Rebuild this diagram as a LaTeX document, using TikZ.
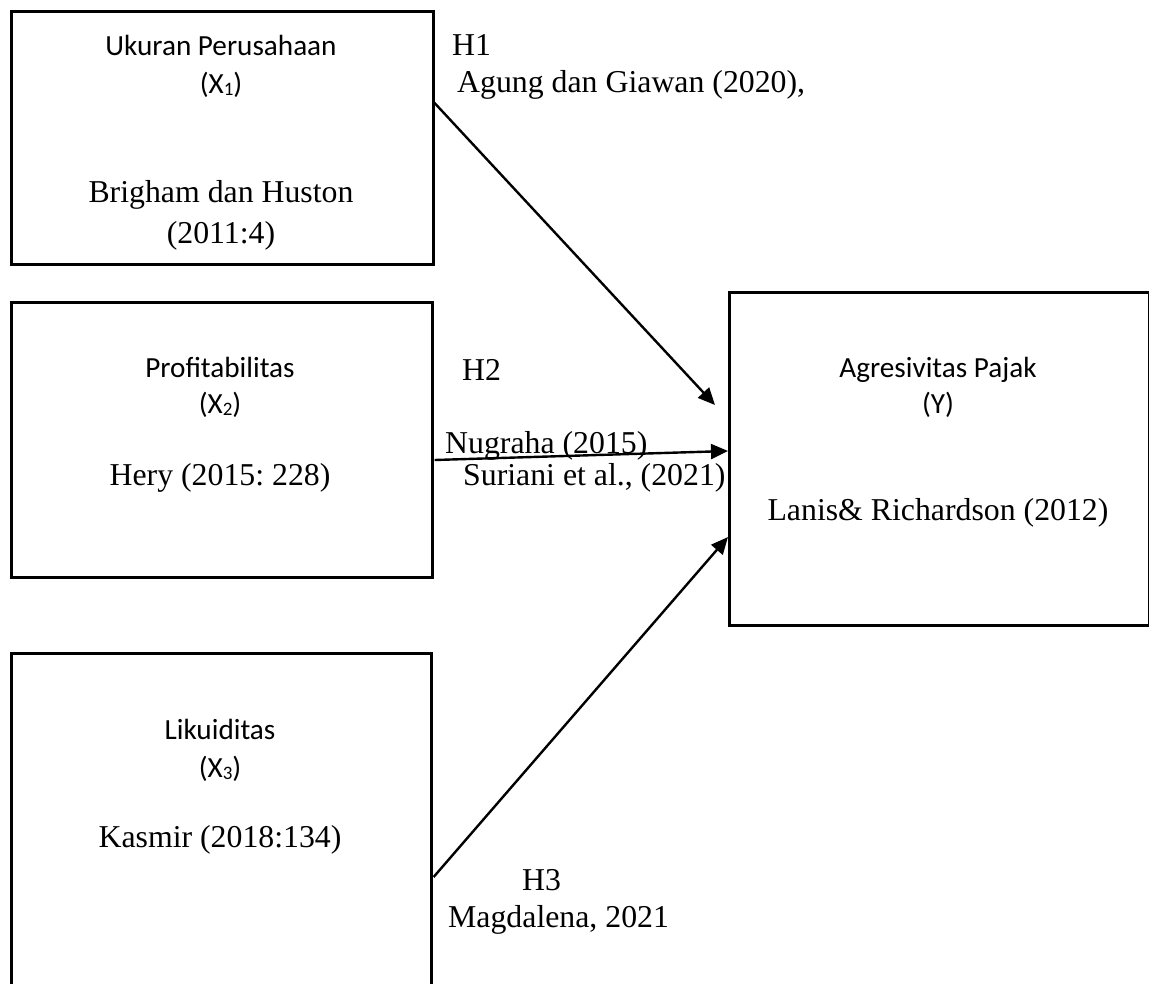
\documentclass[tikz,border=0pt]{standalone}
\usepackage{fontspec}
\setmainfont{Liberation Serif}
\newfontfamily\calfont{Carlito}
\usetikzlibrary{arrows.meta}
\frenchspacing
\newcommand\mysub[1]{\raisebox{-0.1em}{\fontsize{19}{19}\selectfont #1}}
\tikzset{
  box/.style={draw, line width=2.6pt, rectangle, inner sep=0pt, anchor=north west},
  cal/.style={font=\calfont\fontsize{29.2}{35}\selectfont, inner sep=0pt},
  tms/.style={font=\fontsize{31.8}{37}\selectfont, inner sep=0pt},
  conn/.style={line width=2.4pt, -{Triangle[length=17pt,width=15pt]}}
}
\begin{document}
\begin{tikzpicture}[x=1pt,y=-1pt]
\clip (0,0) rectangle (1149,983);
\useasboundingbox (0,0) rectangle (1149,983);
% boxes
\node[box, minimum width=422pt, minimum height=253pt] (x1) at (10,10) {};
\node[box, minimum width=421pt, minimum height=275pt] (x2) at (10,301) {};
\node[box, minimum width=420pt, minimum height=420pt] (x3) at (10,652) {};
\node[box, minimum width=420pt, minimum height=333pt] (y) at (728,291) {};
% box texts
\node[cal, anchor=base] (t1a) at (221,55) {Ukuran Perusahaan};
\node[cal, anchor=base] (t1b) at (221,93) {(X\mysub{1})};
\node[tms, anchor=base] (t1c) at (221,202) {Brigham dan Huston};
\node[tms, anchor=base] (t1d) at (221,243) {(2011:4)};
\node[cal, anchor=base] (t2a) at (220,377) {Profitabilitas};
\node[cal, anchor=base] (t2b) at (220,413) {(X\mysub{2})};
\node[tms, anchor=base] (t2c) at (220,485) {Hery (2015: 228)};
\node[cal, anchor=base] (t3a) at (220,739) {Likuiditas};
\node[cal, anchor=base] (t3b) at (220,777) {(X\mysub{3})};
\node[tms, anchor=base] (t3c) at (220,847) {Kasmir (2018:134)};
\node[cal, anchor=base] (tya) at (938,377) {Agresivitas Pajak};
\node[cal, anchor=base] (tyb) at (938,413) {(Y)};
\node[tms, anchor=base] (tyc) at (938,520) {Lanis\& Richardson (2012)};
% hypothesis labels
\node[tms, anchor=base west] (h1) at (452,55) {H1};
\node[tms, anchor=base west] (h1r) at (457,92) {Agung dan Giawan (2020),};
\node[tms, anchor=base west] (h2) at (462,380) {H2};
\node[tms, anchor=base west] (h2r1) at (445,453) {Nugraha (2015)};
\node[tms, anchor=base west] (h2r2) at (463,485) {Suriani et al., (2021)};
\node[tms, anchor=base west] (h3) at (522,890) {H3};
\node[tms, anchor=base west] (h3r) at (448,927) {Magdalena, 2021};
% connectors
\draw[conn] ([yshift=-93pt]x1.north east) -- ([xshift=-13pt,yshift=-114pt]y.north west);
\draw[conn] ([xshift=1pt,yshift=-159pt]x2.north east) -- ([yshift=-160pt]y.north west);
\draw[conn] ([xshift=1pt,yshift=-225pt]x3.north east) -- ([yshift=-246pt]y.north west);
\end{tikzpicture}
\end{document}
